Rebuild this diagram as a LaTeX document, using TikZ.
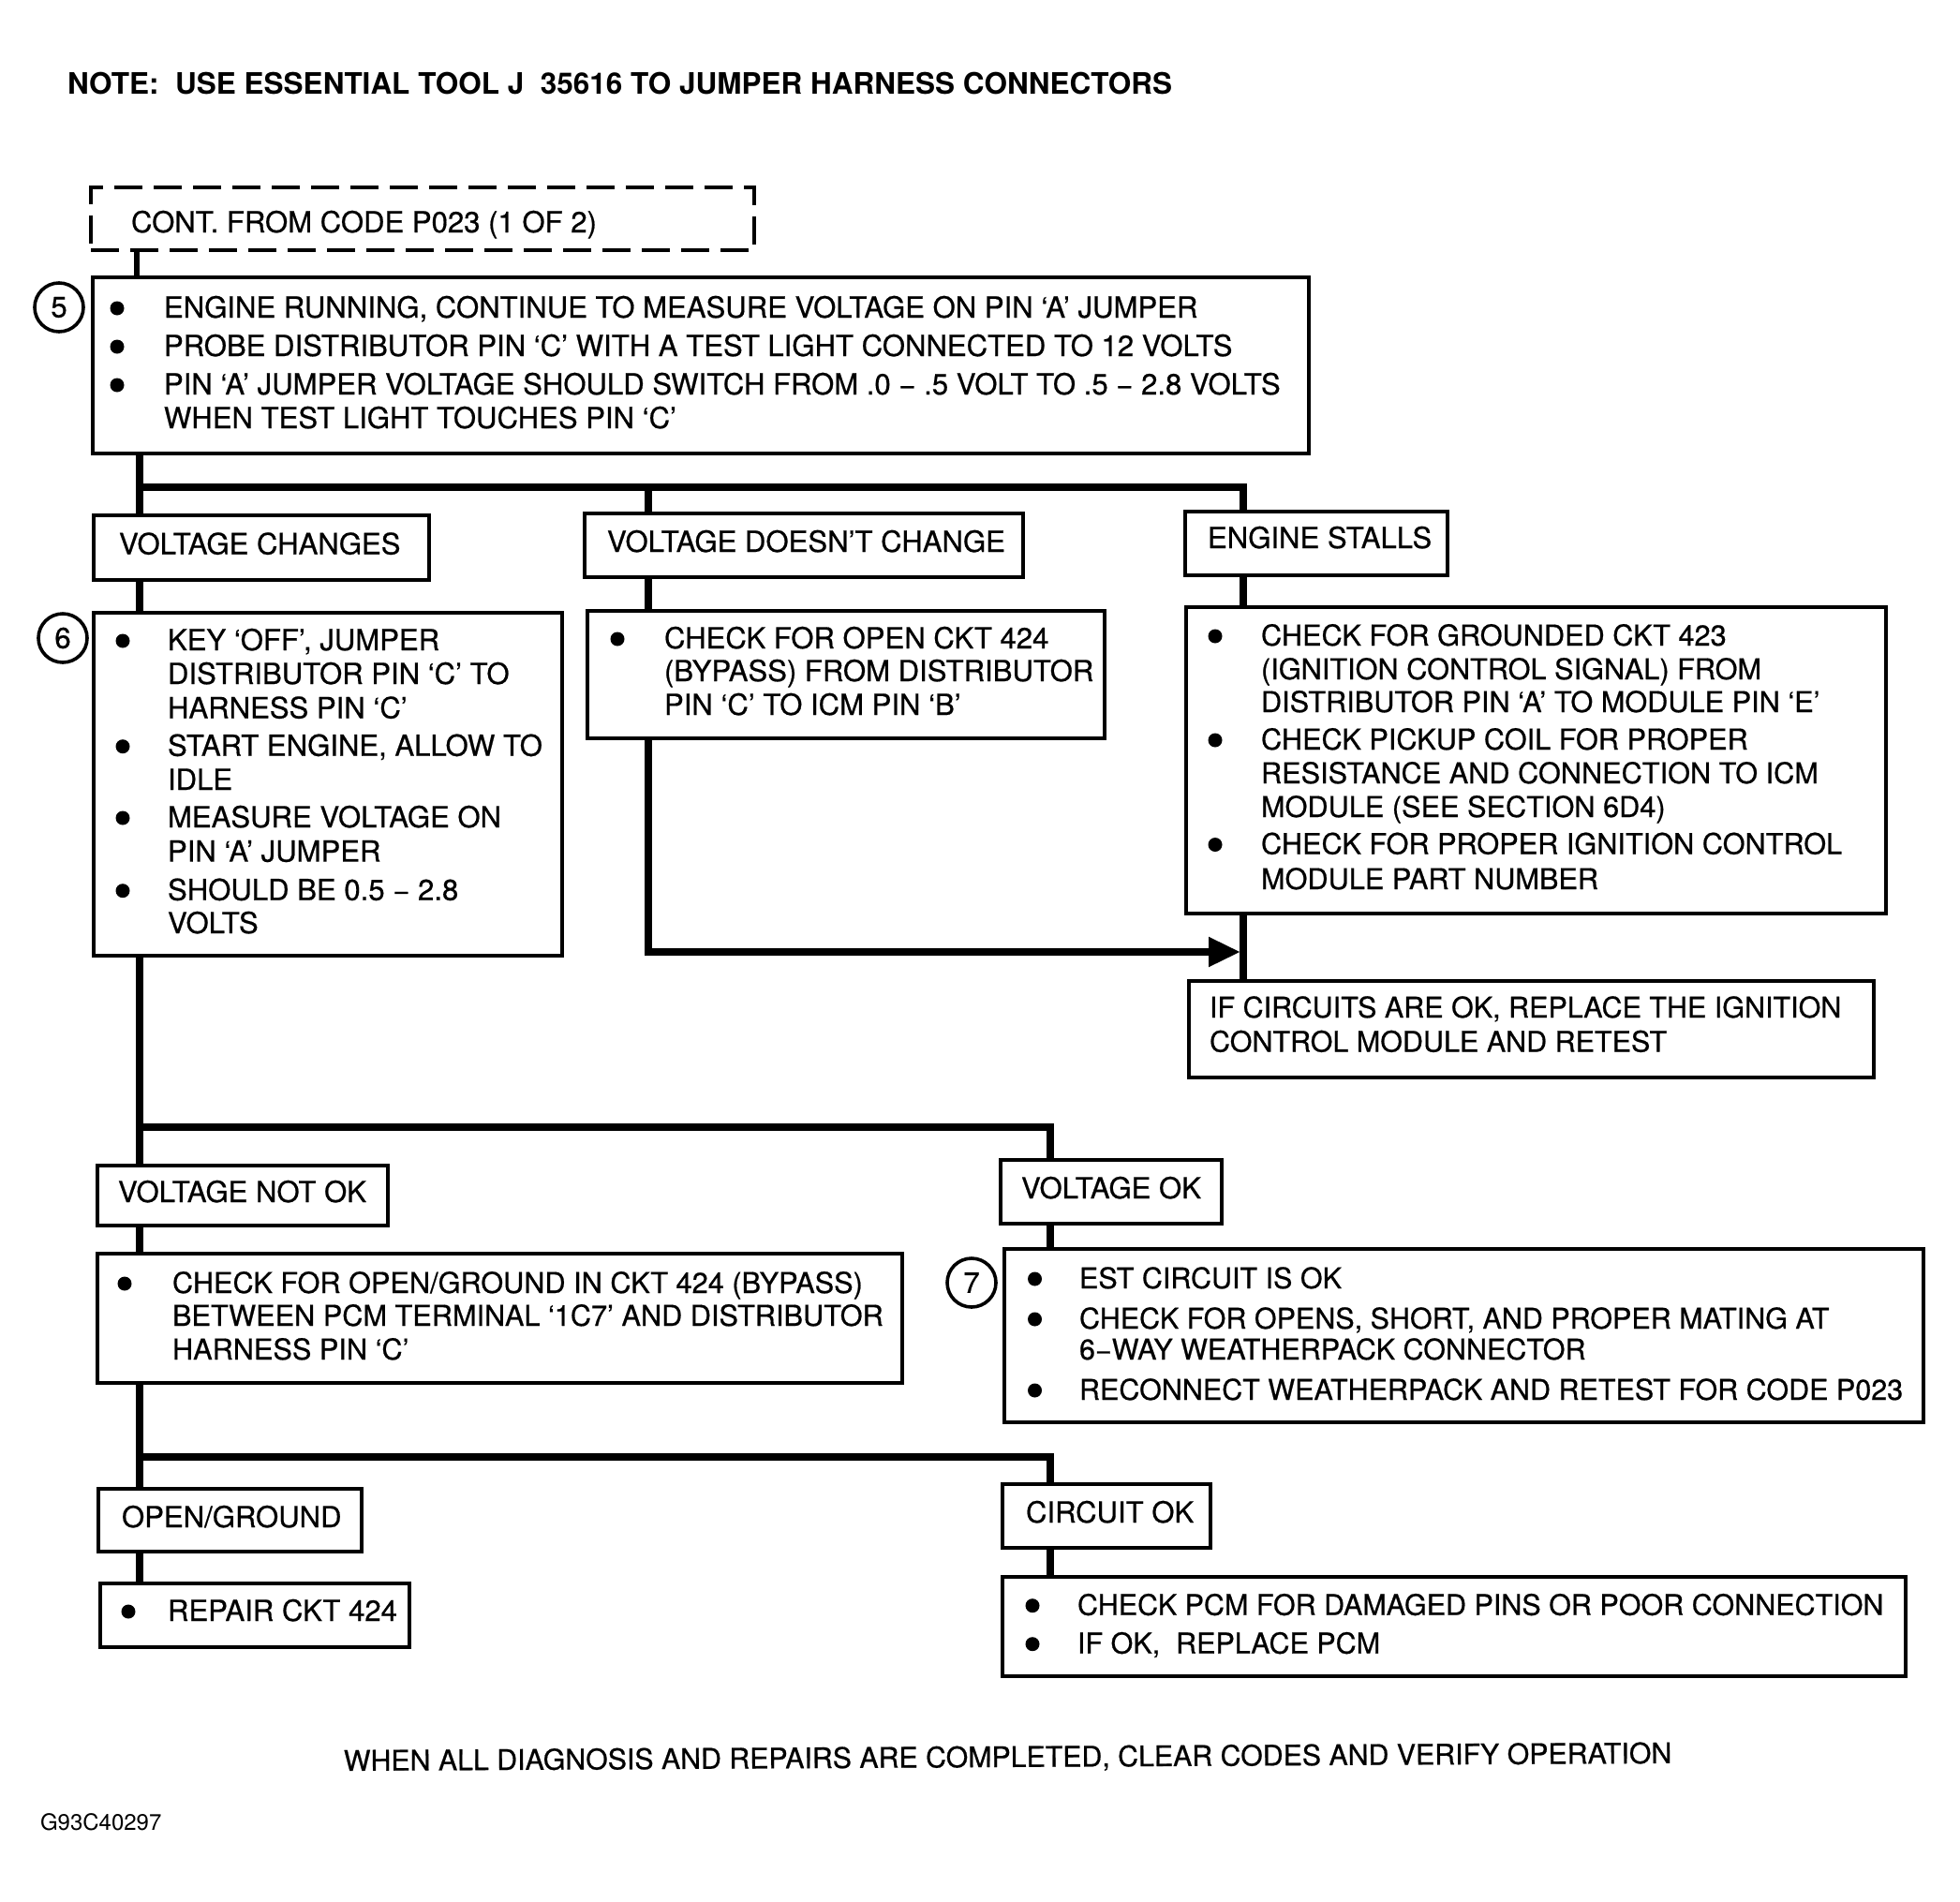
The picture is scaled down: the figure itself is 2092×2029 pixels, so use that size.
\documentclass[tikz,border=0pt]{standalone}
\usepackage{fontspec}
\setmainfont{TeX Gyre Heros}
\newfontfamily\bodyfont{TeX Gyre Heros}[FakeBold=0.6]
\newfontfamily\notefont{TeX Gyre Heros Bold}
\usetikzlibrary{fit,arrows.meta}
\newcommand\fs{\fontsize{31.1}{36}\selectfont\bodyfont}
\newcommand\fsb{\fontsize{30.5}{36}\selectfont\bodyfont}
\newcommand\fsc{\fontsize{30.7}{36}\selectfont\bodyfont}
\newcommand\tl[4]{\node[txt] (#1) at (#2,#3) {#4};}
\newcommand\tlb[4]{\node[txt, font=\fsb] (#1) at (#2,#3) {#4};}
\newcommand\tlc[4]{\node[txt, font=\fsc] (#1) at (#2,#3) {#4};}
\newcommand\bu[3]{\node[bul] (#1) at (#2,#3-10) {};}
\newcommand\bx[5]{\node[box, fit={(#2,#3) (#4,#5)}] (#1) {};}
\newcommand\mn{\ −\ }
\tikzset{
  txt/.style={anchor=base west, inner sep=0pt, outer sep=0pt, font=\fs},
  bul/.style={circle, fill=black, draw=none, minimum size=15pt, inner sep=0pt},
  box/.style={draw=black, line width=3.6pt, inner sep=0pt, outer sep=0pt, rectangle},
  dashbox/.style={draw=black, line width=4pt, inner sep=0pt, outer sep=0pt, rectangle, dash pattern=on 30pt off 12pt},
  conn/.style={draw=black, line width=8pt},
  numc/.style={circle, draw=black, line width=3.6pt, minimum size=52pt, inner sep=0pt, font=\fs},
}
\begin{document}
\begin{tikzpicture}[x=1pt,y=-1pt]
\useasboundingbox (0,0) rectangle (2092,2029);
\fill[white] (0,0) rectangle (2092,2029);

% header
\node[txt, font=\fontsize{31.5}{36}\selectfont\notefont] (note) at (72,100) {NOTE:\ \ USE ESSENTIAL TOOL J\ \ 35616 TO JUMPER HARNESS CONNECTORS};

% boxes
\node[dashbox, fit={(97,200) (805,266.5)}] (dash) {};
\bx{b5}{99}{296}{1397}{484}
\bx{vc}{100}{550}{458}{619}
\bx{vdc}{624}{548}{1092}{616}
\bx{es}{1265}{546}{1545}{614}
\bx{b6}{100}{654}{600}{1020}
\bx{bo}{627}{652}{1179}{788}
\bx{bes}{1266}{648}{2013}{975}
\bx{bif}{1269}{1047}{2000}{1150}
\bx{vno}{104}{1244}{414}{1308}
\bx{vok}{1068}{1238}{1304}{1306}
\bx{bcg}{104}{1338}{963}{1476}
\bx{b7}{1072}{1333}{2053}{1518}
\bx{og}{105}{1589}{386}{1656}
\bx{cok}{1070}{1584}{1292}{1652}
\bx{rep}{107}{1690}{437}{1758}
\bx{pcm}{1070}{1683}{2034}{1789}

% step circles
\node[numc] (c5) at (63,328) {5};
\node[numc] (c6) at (67,681) {6};
\node[numc] (c7) at (1037,1369) {7};

% connector coordinates
\coordinate (xT) at (146,0);
\coordinate (xL) at (149,0);
\coordinate (xM) at (692,0);
\coordinate (xR) at (1327,0);
\coordinate (xRa) at (1324,0);
\coordinate (xR2) at (1121,0);
\coordinate (h1) at (0,520);
\coordinate (h2) at (0,1016);
\coordinate (h3) at (0,1203);
\coordinate (h4) at (0,1555);

\draw[conn, line width=6pt] (dash.south -| xT) -- (b5.north -| xT);
\draw[conn] (b5.south -| xL) -- (vc.north -| xL);
\draw[conn] (xL |- h1) -- (xR |- h1) -- (es.north -| xR);
\draw[conn] (xM |- h1) -- (vdc.north -| xM);
\draw[conn] (vc.south -| xL) -- (b6.north -| xL);
\draw[conn] (vdc.south -| xM) -- (bo.north -| xM);
\draw[conn] (es.south -| xR) -- (bes.north -| xR);
\draw[conn] (bes.south -| xR) -- (bif.north -| xR);
\draw[conn, -{Triangle[length=34pt,width=30pt]}] (bo.south -| xM) -- (xM |- h2) -- (xRa |- h2);
\draw[conn] (b6.south -| xL) -- (vno.north -| xL);
\draw[conn] (xL |- h3) -- (xR2 |- h3) -- (vok.north -| xR2);
\draw[conn] (vno.south -| xL) -- (bcg.north -| xL);
\draw[conn] (vok.south -| xR2) -- (b7.north -| xR2);
\draw[conn] (bcg.south -| xL) -- (og.north -| xL);
\draw[conn] (xL |- h4) -- (xR2 |- h4) -- (cok.north -| xR2);
\draw[conn] (og.south -| xL) -- (rep.north -| xL);
\draw[conn] (cok.south -| xR2) -- (pcm.north -| xR2);

% dashed box text
\tl{tcont}{140}{248}{CONT. FROM CODE P023 (1 OF 2)}

% box 5
\bu{p5a}{125}{339}\tl{t5a}{175}{339}{ENGINE RUNNING, CONTINUE TO MEASURE VOLTAGE ON PIN ‘A’ JUMPER}
\bu{p5b}{125}{380}\tl{t5b}{175}{380}{PROBE DISTRIBUTOR PIN ‘C’ WITH A TEST LIGHT CONNECTED TO 12 VOLTS}
\bu{p5c}{125}{421}\tl{t5c}{175}{421}{PIN ‘A’ JUMPER VOLTAGE SHOULD SWITCH FROM .0\mn.5 VOLT TO .5\mn2.8 VOLTS}
\tl{t5d}{175}{457}{WHEN TEST LIGHT TOUCHES PIN ‘C’}

% labels
\tl{tvc}{127}{591.5}{VOLTAGE CHANGES}
\tl{tvdc}{648}{589}{VOLTAGE DOESN’T CHANGE}
\tl{tes}{1289}{585}{ENGINE STALLS}
\tl{tvno}{126}{1283}{VOLTAGE NOT OK}
\tl{tvok}{1090}{1279}{VOLTAGE OK}
\tl{tog}{130}{1630}{OPEN/GROUND}
\tl{tcok}{1095}{1625}{CIRCUIT OK}

% box 6
\bu{p6a}{131}{694}\tl{t6a}{179}{694}{KEY ‘OFF’, JUMPER}
\tl{t6b}{179}{730}{DISTRIBUTOR PIN ‘C’ TO}
\tl{t6c}{179}{766.5}{HARNESS PIN ‘C’}
\bu{p6d}{131}{806.7}\tl{t6d}{179}{806.7}{START ENGINE, ALLOW TO}
\tl{t6e}{179}{843}{IDLE}
\bu{p6f}{131}{883}\tl{t6f}{179}{883}{MEASURE VOLTAGE ON}
\tl{t6g}{179}{919.6}{PIN ‘A’ JUMPER}
\bu{p6h}{131}{960.7}\tl{t6h}{179}{960.7}{SHOULD BE 0.5\mn2.8}
\tl{t6i}{179}{996}{VOLTS}

% open ckt box
\bu{poa}{659}{692}\tl{toa}{709}{692}{CHECK FOR OPEN CKT 424}
\tl{tob}{709}{727}{(BYPASS) FROM DISTRIBUTOR}
\tl{toc}{709}{763}{PIN ‘C’ TO ICM PIN ‘B’}

% engine stalls box
\bu{pea}{1297}{689}\tlc{tea}{1346}{689}{CHECK FOR GROUNDED CKT 423}
\tlc{teb}{1346}{725}{(IGNITION CONTROL SIGNAL) FROM}
\tlc{tec}{1346}{760}{DISTRIBUTOR PIN ‘A’ TO MODULE PIN ‘E’}
\bu{ped}{1297}{800}\tlc{ted}{1346}{800}{CHECK PICKUP COIL FOR PROPER}
\tlc{tee}{1346}{836}{RESISTANCE AND CONNECTION TO ICM}
\tlc{tef}{1346}{872}{MODULE (SEE SECTION 6D4)}
\bu{peg}{1297}{911.5}\tlc{teg}{1346}{911.5}{CHECK FOR PROPER IGNITION CONTROL}
\tlc{teh}{1346}{949}{MODULE PART NUMBER}

% if circuits box
\tlb{tia}{1291}{1086}{IF CIRCUITS ARE OK, REPLACE THE IGNITION}
\tlb{tib}{1291}{1122.5}{CONTROL MODULE AND RETEST}

% check open/ground box
\bu{pga}{133}{1380}\tlc{tga}{184}{1380}{CHECK FOR OPEN/GROUND IN CKT 424 (BYPASS)}
\tlc{tgb}{184}{1415}{BETWEEN PCM TERMINAL ‘1C7’ AND DISTRIBUTOR}
\tlc{tgc}{184}{1451}{HARNESS PIN ‘C’}

% box 7
\bu{p7a}{1104.5}{1375}\tlb{t7a}{1152}{1375}{EST CIRCUIT IS OK}
\bu{p7b}{1104.5}{1418}\tlb{t7b}{1152}{1418}{CHECK FOR OPENS, SHORT, AND PROPER MATING AT}
\tlb{t7c}{1152}{1451}{6−WAY WEATHERPACK CONNECTOR}
\bu{p7d}{1104.5}{1494}\tlb{t7d}{1152}{1494}{RECONNECT WEATHERPACK AND RETEST FOR CODE P023}

% repair
\bu{pra}{137}{1730}\tl{tra}{179}{1730}{REPAIR CKT 424}

% pcm
\bu{ppa}{1102}{1723.7}\tlb{tpa}{1150}{1723.7}{CHECK PCM FOR DAMAGED PINS OR POOR CONNECTION}
\bu{ppb}{1102}{1764.7}\tlb{tpb}{1150}{1764.7}{IF OK,\ \ REPLACE PCM}

% footer
\node[txt, rotate=0.33, font=\fontsize{30.3}{36}\selectfont\bodyfont] (tfoot) at (367,1890) {WHEN ALL DIAGNOSIS AND REPAIRS ARE COMPLETED, CLEAR CODES AND VERIFY OPERATION};
\node[txt, font=\fontsize{24}{28}\selectfont] (tcode) at (43,1953) {G93C40297};
\end{tikzpicture}
\end{document}
